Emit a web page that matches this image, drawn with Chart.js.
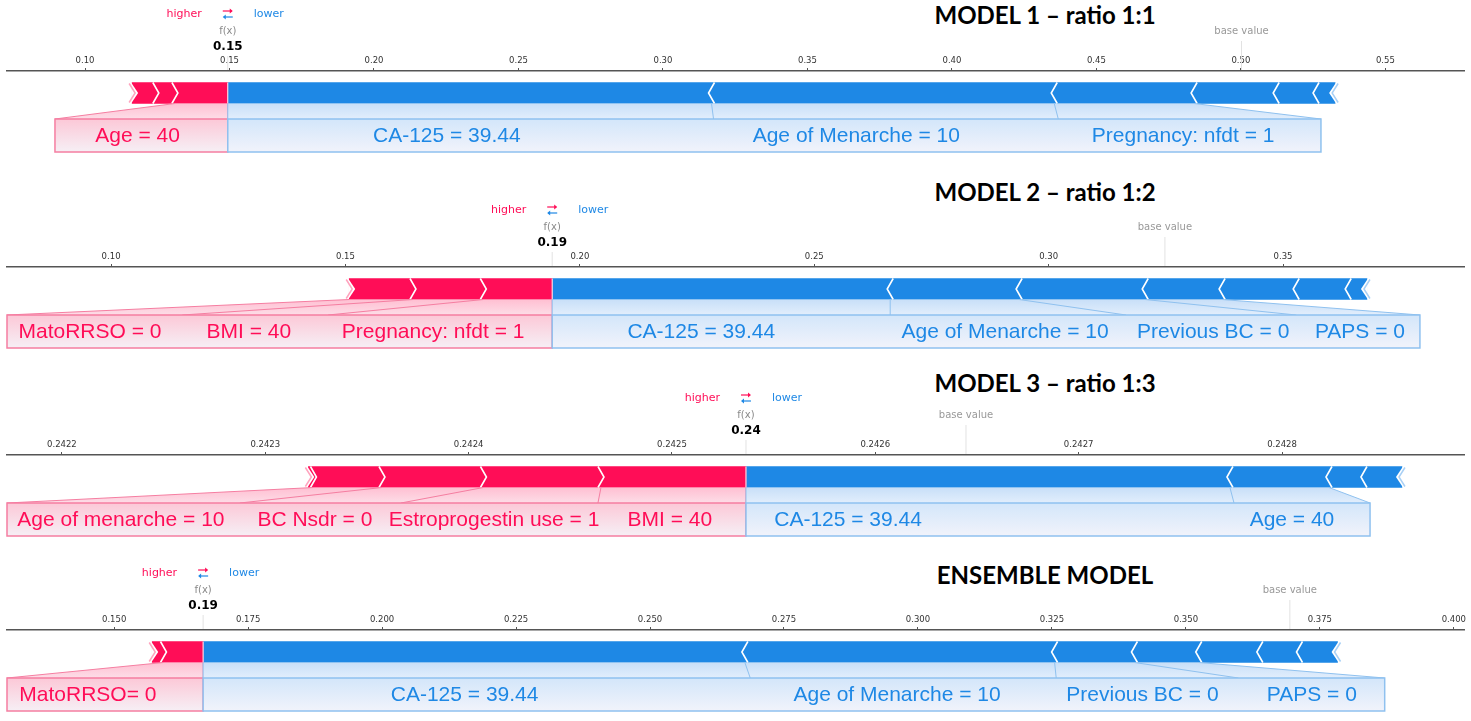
<!DOCTYPE html>
<html>
<head>
<meta charset="utf-8">
<script src="https://cdn.jsdelivr.net/npm/chart.js@4.4.1/dist/chart.umd.min.js"></script>
<style>
  html, body { margin: 0; padding: 0; background: #fff; overflow: hidden; }
  #page { position: relative; width: 1471px; height: 721px; }
  .panel { position: absolute; left: 0; }
  .title {
    position: absolute;
    font-family: Lato, "Open Sans", sans-serif;
    font-weight: 700;
    font-size: 24px;
    line-height: 1;
    color: #000;
    white-space: nowrap;
    transform: translate(-50%, -50%);
  }
</style>
</head>
<body>
<div id="page"></div>
<script>
// ---- data: MODEL 1 ----
const m1Ticks = [0.10, 0.15, 0.20, 0.25, 0.30, 0.35, 0.40, 0.45, 0.50, 0.55];
const m1TickLabels = ['0.10', '0.15', '0.20', '0.25', '0.30', '0.35', '0.40', '0.45', '0.50', '0.55'];
const m1Higher = [0.1163, 0.1245, 0.1311, 0.1494];
const m1Lower = [0.1494, 0.3168, 0.4354, 0.4838, 0.5122, 0.5260, 0.5326];
const m1Base = 0.5002;
const m1FxLabel = '0.15';
const m1HigherNames = ['Age = 40'];
const m1LowerNames = ['CA-125 = 39.44', 'Age of Menarche = 10', 'Pregnancy: nfdt = 1'];

// ---- data: MODEL 2 ----
const m2Ticks = [0.10, 0.15, 0.20, 0.25, 0.30, 0.35];
const m2TickLabels = ['0.10', '0.15', '0.20', '0.25', '0.30', '0.35'];
const m2Higher = [0.1508, 0.1644, 0.1794, 0.1941];
const m2Lower = [0.1941, 0.2662, 0.2937, 0.3206, 0.3370, 0.3528, 0.3639, 0.3679];
const m2Base = 0.3248;
const m2FxLabel = '0.19';
const m2HigherNames = ['MatoRRSO = 0', 'BMI = 40', 'Pregnancy: nfdt = 1'];
const m2LowerNames = ['CA-125 = 39.44', 'Age of Menarche = 10', 'Previous BC = 0', 'PAPS = 0'];

// ---- data: MODEL 3 ----
const m3Ticks = [0.2422, 0.2423, 0.2424, 0.2425, 0.2426, 0.2427, 0.2428];
const m3TickLabels = ['0.2422', '0.2423', '0.2424', '0.2425', '0.2426', '0.2427', '0.2428'];
const m3Higher = [0.2423212, 0.2423237, 0.2423574, 0.2424073, 0.2424651, 0.2425364];
const m3Lower = [0.2425364, 0.2427744, 0.2428231, 0.2428403, 0.2428590];
const m3Base = 0.2426446;
const m3FxLabel = '0.24';
const m3HigherNames = ['Age of menarche = 10', 'BC Nsdr = 0', 'Estroprogestin use = 1', 'BMI = 40'];
const m3LowerNames = ['CA-125 = 39.44', 'Age = 40'];

// ---- data: ENSEMBLE ----
const m4Ticks = [0.150, 0.175, 0.200, 0.225, 0.250, 0.275, 0.300, 0.325, 0.350, 0.375, 0.400];
const m4TickLabels = ['0.150', '0.175', '0.200', '0.225', '0.250', '0.275', '0.300', '0.325', '0.350', '0.375', '0.400'];
const m4Higher = [0.1571, 0.1592, 0.1666];
const m4Lower = [0.1666, 0.2677, 0.3255, 0.3404, 0.3524, 0.3638, 0.3712, 0.3783];
const m4Base = 0.3694;
const m4FxLabel = '0.19';
const m4HigherNames = ['MatoRRSO= 0'];
const m4LowerNames = ['CA-125 = 39.44', 'Age of Menarche = 10', 'Previous BC = 0', 'PAPS = 0'];

// ---- layout (axis window, label boxes and text anchors, in axis units) ----
const panels = [
  { title: 'MODEL 1 \u2013 ratio 1:1', axisY: 71, titleY: 15,
    ticks: m1Ticks, tickLabels: m1TickLabels, higher: m1Higher, lower: m1Lower, base: m1Base, fxLabel: m1FxLabel,
    higherNames: m1HigherNames, lowerNames: m1LowerNames,
    range: [0.0730, 0.5772],
    higherBox: [0.0896, 0.1494], higherText: [0.1182],
    lowerBox: [0.1494, 0.3175, 0.4368, 0.5277], lowerText: [0.2252, 0.3669, 0.4800] },
  { title: 'MODEL 2 \u2013 ratio 1:2', axisY: 267, titleY: 192,
    ticks: m2Ticks, tickLabels: m2TickLabels, higher: m2Higher, lower: m2Lower, base: m2Base, fxLabel: m2FxLabel,
    higherNames: m2HigherNames, lowerNames: m2LowerNames,
    range: [0.0778, 0.3886],
    higherBox: [0.0778, 0.1152, 0.1463, 0.1941], higherText: [0.0955, 0.1294, 0.1687],
    lowerBox: [0.1941, 0.2662, 0.3165, 0.3528, 0.3792], lowerText: [0.2259, 0.2907, 0.3351, 0.3664] },
  { title: 'MODEL 3 \u2013 ratio 1:3', axisY: 455, titleY: 383,
    ticks: m3Ticks, tickLabels: m3TickLabels, higher: m3Higher, lower: m3Lower, base: m3Base, fxLabel: m3FxLabel,
    higherNames: m3HigherNames, lowerNames: m3LowerNames,
    range: [0.2421730, 0.2428895],
    higherBox: [0.2421730, 0.2422875, 0.2423667, 0.2424636, 0.2425364],
    higherText: [0.2422290, 0.2423244, 0.2424125, 0.2424990],
    lowerBox: [0.2425364, 0.2427764, 0.2428433], lowerText: [0.2425866, 0.2428049] },
  { title: 'ENSEMBLE MODEL', axisY: 630, titleY: 575,
    ticks: m4Ticks, tickLabels: m4TickLabels, higher: m4Higher, lower: m4Lower, base: m4Base, fxLabel: m4FxLabel,
    higherNames: m4HigherNames, lowerNames: m4LowerNames,
    range: [0.1300, 0.4019],
    higherBox: [0.1300, 0.1666], higherText: [0.1451],
    lowerBox: [0.1666, 0.2687, 0.3258, 0.3598, 0.3871], lowerText: [0.2154, 0.2961, 0.3419, 0.3735] }
];

const RED = '#FF0D57';
const BLUE = '#1E88E5';
const CANVAS_H = 152;
const ABOVE = 66;   // canvas px above the axis line

// draws the arrows, the label boxes and the header texts of one force plot
function forcePlugin(p) {
  return {
    id: 'force',
    afterDatasetsDraw(chart) {
      const ctx = chart.ctx;
      const px = v => chart.scales.x.getPixelForValue(v);
      const axisY = chart.chartArea.top;
      const bar = chart.getDatasetMeta(0).data[0];
      const top = bar.y - bar.height / 2, bot = bar.y + bar.height / 2, mid = bar.y;
      const d = 6;
      const fx = p.higher[p.higher.length - 1];
      const fxp = px(fx);

      ctx.save();

      // outer notches
      const r0 = px(p.higher[0]);
      ctx.fillStyle = '#fff';
      ctx.beginPath(); ctx.moveTo(r0 - 1, top); ctx.lineTo(r0 + d, mid); ctx.lineTo(r0 - 1, bot); ctx.closePath(); ctx.fill();
      ctx.strokeStyle = '#FFA3BE'; ctx.lineWidth = 1.5;
      ctx.beginPath(); ctx.moveTo(r0 - 3, top + 1); ctx.lineTo(r0 + d - 3, mid); ctx.lineTo(r0 - 3, bot - 1); ctx.stroke();
      const b1 = px(p.lower[p.lower.length - 1]);
      ctx.beginPath(); ctx.moveTo(b1 + 1, top); ctx.lineTo(b1 - d, mid); ctx.lineTo(b1 + 1, bot); ctx.closePath(); ctx.fill();
      ctx.strokeStyle = '#A9D0F5';
      ctx.beginPath(); ctx.moveTo(b1 + 3, top + 1); ctx.lineTo(b1 - d + 3, mid); ctx.lineTo(b1 + 3, bot - 1); ctx.stroke();

      // chevrons between segments
      ctx.strokeStyle = '#fff'; ctx.lineWidth = 1.6;
      p.higher.slice(1, -1).forEach(v => {
        const x = px(v);
        ctx.beginPath(); ctx.moveTo(x - d / 2, top); ctx.lineTo(x + d / 2, mid); ctx.lineTo(x - d / 2, bot); ctx.stroke();
      });
      p.lower.slice(1, -1).forEach(v => {
        const x = px(v);
        ctx.beginPath(); ctx.moveTo(x + d / 2, top); ctx.lineTo(x - d / 2, mid); ctx.lineTo(x + d / 2, bot); ctx.stroke();
      });
      ctx.lineWidth = 1;
      ctx.beginPath(); ctx.moveTo(fxp, top); ctx.lineTo(fxp, bot); ctx.stroke();

      // label boxes
      const boxTop = axisY + 48, boxBot = axisY + 81;
      const sides = [
        { names: p.higherNames, box: p.higherBox, text: p.higherText,
          link: p.higher.slice(-(p.higherNames.length + 1)),
          color: RED, c1: '#FFBFD2', c2: '#FDDDE7', b1: '#FCC8D7', b2: '#F6EFF5', stroke: '#F57EA1' },
        { names: p.lowerNames, box: p.lowerBox, text: p.lowerText,
          link: p.lower.slice(0, p.lowerNames.length + 1),
          color: BLUE, c1: '#C8DFF8', c2: '#E2EEFC', b1: '#D3E6FA', b2: '#F1F3FB', stroke: '#8FC1EF' }
      ];
      sides.forEach(s => {
        const ls = s.link.map(px), bs = s.box.map(px);
        const n = ls.length - 1;
        let g = ctx.createLinearGradient(0, bot, 0, boxTop);
        g.addColorStop(0, s.c1); g.addColorStop(1, s.c2);
        ctx.fillStyle = g;
        ctx.beginPath();
        ctx.moveTo(ls[0], bot); ctx.lineTo(ls[n], bot); ctx.lineTo(bs[n], boxTop); ctx.lineTo(bs[0], boxTop);
        ctx.closePath(); ctx.fill();
        ctx.strokeStyle = s.stroke; ctx.lineWidth = 1;
        for (let i = 0; i <= n; i++) {
          ctx.beginPath(); ctx.moveTo(ls[i], bot); ctx.lineTo(bs[i], boxTop); ctx.stroke();
        }
        g = ctx.createLinearGradient(0, boxTop, 0, boxBot);
        g.addColorStop(0, s.b1); g.addColorStop(1, s.b2);
        ctx.fillStyle = g;
        ctx.fillRect(bs[0], boxTop, bs[n] - bs[0], boxBot - boxTop);
        ctx.lineWidth = 1.5;
        ctx.strokeRect(bs[0], boxTop, bs[n] - bs[0], boxBot - boxTop);
        ctx.fillStyle = s.color;
        ctx.font = '21px "Liberation Sans", Arial, sans-serif';
        ctx.textAlign = 'center'; ctx.textBaseline = 'middle';
        s.names.forEach((t, i) => ctx.fillText(t, px(s.text[i]), (boxTop + boxBot) / 2 + 1));
      });

      // header: higher / lower, f(x), base value
      const hy = axisY - 57;
      ctx.textBaseline = 'middle';
      ctx.font = '11px "DejaVu Sans"';
      ctx.fillStyle = RED; ctx.textAlign = 'right';
      ctx.fillText('higher', fxp - 26, hy);
      ctx.fillStyle = BLUE; ctx.textAlign = 'left';
      ctx.fillText('lower', fxp + 26, hy);
      ctx.lineWidth = 1.2;
      ctx.strokeStyle = RED; ctx.fillStyle = RED;
      ctx.beginPath(); ctx.moveTo(fxp - 5, hy - 3); ctx.lineTo(fxp + 4, hy - 3); ctx.stroke();
      ctx.beginPath(); ctx.moveTo(fxp + 5, hy - 3); ctx.lineTo(fxp + 2, hy - 5.5); ctx.lineTo(fxp + 2, hy - 0.5); ctx.fill();
      ctx.strokeStyle = BLUE; ctx.fillStyle = BLUE;
      ctx.beginPath(); ctx.moveTo(fxp + 5, hy + 3); ctx.lineTo(fxp - 4, hy + 3); ctx.stroke();
      ctx.beginPath(); ctx.moveTo(fxp - 5, hy + 3); ctx.lineTo(fxp - 2, hy + 0.5); ctx.lineTo(fxp - 2, hy + 5.5); ctx.fill();

      ctx.textAlign = 'center';
      ctx.font = '10px "DejaVu Sans"';
      ctx.fillStyle = '#8a8a8a';
      ctx.fillText('f(x)', fxp, axisY - 40);
      ctx.font = 'bold 12px "DejaVu Sans"';
      ctx.fillStyle = '#000';
      ctx.fillText(p.fxLabel, fxp, axisY - 24);

      const bp = px(p.base);
      ctx.font = '10px "DejaVu Sans"';
      ctx.fillStyle = '#999';
      ctx.fillText('base value', bp, axisY - 40);
      ctx.strokeStyle = '#e2e2e2'; ctx.lineWidth = 1;
      ctx.beginPath(); ctx.moveTo(bp, axisY - 30); ctx.lineTo(bp, axisY - 1); ctx.stroke();
      ctx.beginPath(); ctx.moveTo(fxp, axisY - 15); ctx.lineTo(fxp, axisY - 1); ctx.stroke();

      ctx.restore();
    }
  };
}

const page = document.getElementById('page');

panels.forEach(p => {
  const title = document.createElement('div');
  title.className = 'title';
  title.textContent = p.title;
  title.style.left = '1045px';
  title.style.top = p.titleY + 'px';
  page.appendChild(title);

  const canvas = document.createElement('canvas');
  canvas.className = 'panel';
  canvas.width = 1471;
  canvas.height = CANVAS_H;
  canvas.style.top = (p.axisY - ABOVE) + 'px';
  page.appendChild(canvas);

  const fx = p.higher[p.higher.length - 1];

  new Chart(canvas.getContext('2d'), {
    type: 'bar',
    data: {
      labels: [''],
      datasets: [
        { label: 'higher', data: [[p.higher[0], fx]], backgroundColor: RED,
          grouped: false, barThickness: 21, borderWidth: 0 },
        { label: 'lower', data: [[fx, p.lower[p.lower.length - 1]]], backgroundColor: BLUE,
          grouped: false, barThickness: 21, borderWidth: 0 }
      ]
    },
    options: {
      indexAxis: 'y',
      responsive: false,
      animation: false,
      events: [],
      layout: { padding: { top: ABOVE - 24, bottom: CANVAS_H - ABOVE - 44, left: 7, right: 7 } },
      plugins: {
        legend: { display: false },
        tooltip: { enabled: false },
        title: { display: false }
      },
      scales: {
        x: {
          type: 'linear',
          position: 'top',
          min: p.range[0],
          max: p.range[1],
          afterBuildTicks: s => { s.ticks = p.ticks.map(v => ({ value: v })); },
          afterFit: s => { s.height = 24; },
          ticks: {
            autoSkip: false,
            maxRotation: 0,
            padding: 2,
            color: '#333',
            font: { family: 'DejaVu Sans', size: 8.5 },
            callback: (v, i) => p.tickLabels[i]
          },
          grid: { drawOnChartArea: false, drawTicks: true, tickLength: 3, color: '#555' },
          border: { display: true, color: '#555', width: 1.5 }
        },
        y: { display: false }
      }
    },
    plugins: [forcePlugin(p)]
  });
});
</script>
</body>
</html>
